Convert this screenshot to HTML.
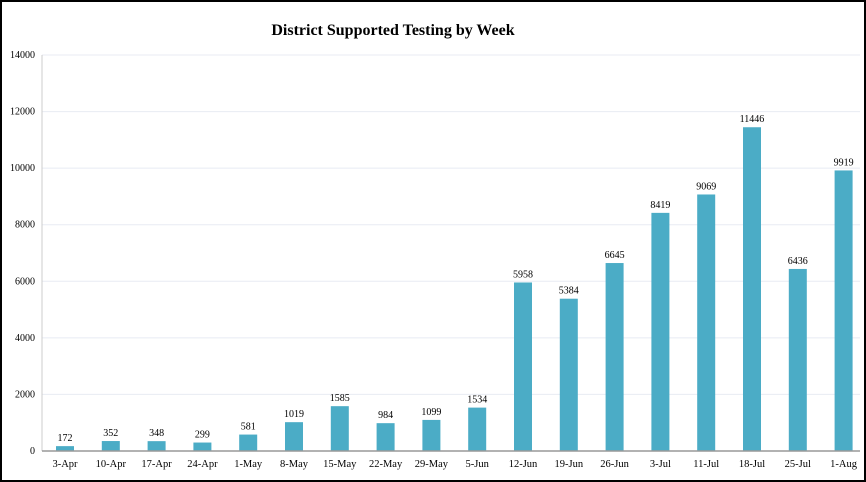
<!DOCTYPE html>
<html><head><style>
body{margin:0;background:#fff}
svg{display:block;font-family:"Liberation Serif",serif}
</style></head><body>
<svg width="866" height="482" xmlns="http://www.w3.org/2000/svg">
<rect x="1" y="1" width="864" height="480" fill="#fff" stroke="#000" stroke-width="2"/>
<text x="393" y="35" text-anchor="middle" font-size="16" font-weight="bold">District Supported Testing by Week</text>
<g id="g"></g>
</svg>
<script>
const vals=[172,352,348,299,581,1019,1585,984,1099,1534,5958,5384,6645,8419,9069,11446,6436,9919];
const labs=["3-Apr","10-Apr","17-Apr","24-Apr","1-May","8-May","15-May","22-May","29-May","5-Jun","12-Jun","19-Jun","26-Jun","3-Jul","11-Jul","18-Jul","25-Jul","1-Aug"];
const y0=451,k=396/14000;let s='';
for(let v=0;v<=14000;v+=2000){const y=y0-v*k;
 if(v>0)s+=`<line x1="42" x2="860" y1="${y}" y2="${y}" stroke="#e8ebf3" stroke-width="1"/>`;
 s+=`<text x="35" y="${y+3}" text-anchor="end" font-size="10">${v}</text>`;}
s+=`<line x1="42" x2="42" y1="55" y2="${y0}" stroke="#ccc"/>`;
vals.forEach((v,i)=>{const cx=65+i*45.8,h=v*k;
 s+=`<rect x="${cx-9}" y="${y0-h}" width="18" height="${h}" fill="#4bacc6"/>`;
 s+=`<text x="${cx}" y="${y0-h-5}" text-anchor="middle" font-size="10">${v}</text>`;
 s+=`<text x="${cx}" y="467" text-anchor="middle" font-size="10.5">${labs[i]}</text>`;});
s+=`<line x1="42" x2="860" y1="${y0}" y2="${y0}" stroke="#999" stroke-width="1.5"/>`;
document.getElementById('g').innerHTML=s;
</script>
</body></html>
